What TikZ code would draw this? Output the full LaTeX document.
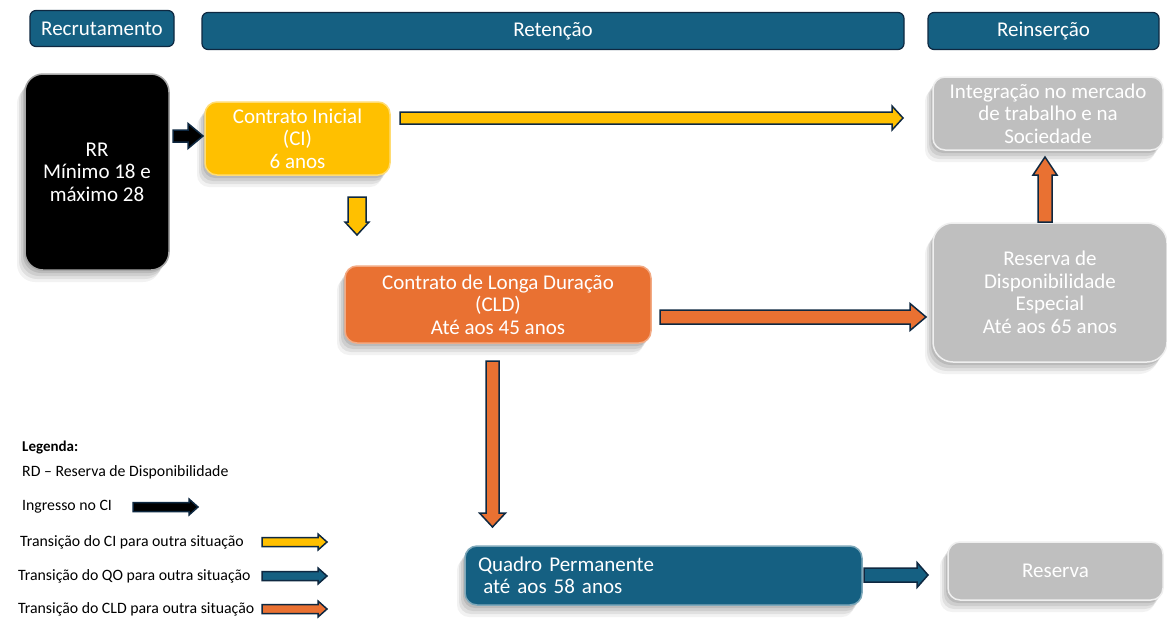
\documentclass[tikz,border=0pt]{standalone}
\usepackage{fontspec}
\setmainfont{Carlito}
\usetikzlibrary{calc, shadows}
\definecolor{hdrblue}{HTML}{156082}
\definecolor{ciyellow}{HTML}{FFC000}
\definecolor{cldorange}{HTML}{E97132}
\definecolor{boxgray}{HTML}{BFBFBF}
\definecolor{arrowline}{HTML}{0E2841}
\tikzstyle{boxfont}=[font=\fontsize{21}{22.5}\selectfont]
\tikzstyle{legfont}=[font=\fontsize{15.8}{18}\selectfont]
\tikzstyle{header}=[boxfont, text=white, fill=hdrblue, draw=arrowline, line width=1.2, rounded corners=6, inner sep=0]
\tikzstyle{softshadow}=[
	general shadow={shadow xshift=-2pt, shadow yshift=-3pt, fill=black, opacity=0.09},
	general shadow={shadow xshift=-4pt, shadow yshift=-6pt, fill=black, opacity=0.08},
	general shadow={shadow xshift=-6pt, shadow yshift=-9pt, fill=black, opacity=0.07},
	general shadow={shadow xshift=-8pt, shadow yshift=-12pt, fill=black, opacity=0.05}]
\tikzstyle{stage}=[boxfont, text=white, align=center, rounded corners=12, inner sep=0, line width=1.5, softshadow]
\tikzstyle{legend}=[legfont, anchor=west, inner sep=0]
\tikzstyle{barrow}=[draw=arrowline, line width=1.5, line join=miter]
% block arrow: #1 fill, #2 from, #3 to, #4 shaft half width, #5 head half width, #6 head length
\newcommand*{\blockarrow}[6]{%
	\coordinate (ha) at ($(#3)!#6!(#2)$);
	\path[barrow, fill=#1] ($(#2)!#4!90:(#3)$) -- ($(ha)!#4!90:(#3)$) -- ($(ha)!#5!90:(#3)$)
		-- (#3) -- ($(ha)!#5!-90:(#3)$) -- ($(ha)!#4!-90:(#3)$) -- ($(#2)!#4!-90:(#3)$) -- cycle;
}
\begin{document}
\begin{tikzpicture}[x=1pt, y=-1pt]
	\useasboundingbox[fill=white] (0,0) rectangle (1167,619);

	% Phase headers
	\node[header, minimum width=144, minimum height=36] (hdr-rec) at (102,28.5) {Recrutamento};
	\node[header, minimum width=702, minimum height=37] (hdr-ret) at (553,31) {Retenção};
	\node[header, minimum width=231, minimum height=37] (hdr-rei) at (1043.5,31) {Reinserção};

	% Stages
	\node[stage, fill=black, draw=gray!70, rounded corners=18, minimum width=144, minimum height=196]
		(rr) at (97,172) {RR\\Mínimo 18 e\\máximo 28};
	\node[stage, fill=ciyellow, draw=ciyellow!55!white, minimum width=185, minimum height=73]
		(ci) at (297.5,138.5) {Contrato Inicial\\(CI)\\6 anos};
	\node[stage, fill=cldorange, draw=cldorange!60!white, minimum width=306, minimum height=77]
		(cld) at (498,304.5) {Contrato de Longa Duração\\(CLD)\\Até aos 45 anos};
	\node[stage, fill=boxgray, draw=white!75!boxgray, minimum width=230, minimum height=73]
		(integ) at (1048,113.5) {Integração no mercado\\de trabalho e na\\Sociedade};
	\node[stage, fill=boxgray, draw=white!75!boxgray, rounded corners=20, minimum width=234, minimum height=139]
		(rde) at (1050,292.5) {Reserva de\\Disponibilidade\\Especial\\Até aos 65 anos};
	\node[stage, fill=hdrblue, draw=hdrblue!55!white, align=left, text width=371, minimum width=397, minimum height=59]
		(qp) at (663.5,575.5) {Quadro Permanente\\\hspace{0.25em}até aos 58 anos};
	\node[stage, fill=boxgray, draw=white!75!boxgray, minimum width=215, minimum height=58]
		(res) at (1055.5,571) {Reserva};

	% Transition arrows
	\coordinate (rr-out) at (173,136);
	\coordinate (ci-in) at (203,136);
	\coordinate (ci-out) at (400,118);
	\coordinate (integ-in) at (903,118);
	\coordinate (ci-down) at (357,197);
	\coordinate (cld-in) at (357,235);
	\coordinate (cld-out) at (660,317);
	\coordinate (rde-in) at (926,317);
	\coordinate (cld-down) at (492.5,361);
	\coordinate (qp-in) at (492.5,527);
	\coordinate (rde-up) at (1045,222);
	\coordinate (integ-up) at (1045,157);
	\coordinate (qp-out) at (864,575);
	\coordinate (res-in) at (928,575);
	\blockarrow{black}{rr-out}{ci-in}{6pt}{12.5pt}{15pt}
	\blockarrow{ciyellow}{ci-out}{integ-in}{6pt}{12pt}{11pt}
	\blockarrow{ciyellow}{ci-down}{cld-in}{9pt}{12pt}{13pt}
	\blockarrow{cldorange}{cld-out}{rde-in}{7pt}{13.5pt}{16pt}
	\blockarrow{cldorange}{cld-down}{qp-in}{6.5pt}{13pt}{14pt}
	\blockarrow{cldorange}{rde-up}{integ-up}{7pt}{12pt}{18pt}
	\blockarrow{hdrblue}{qp-out}{res-in}{7pt}{12.5pt}{11pt}

	% Legend
	\node[legend, font=\bfseries\fontsize{15}{18}\selectfont] (leg-title) at (22,447) {Legenda:};
	\node[legend] (leg-rd) at (22,472) {RD – Reserva de Disponibilidade};
	\foreach \txt/\x/\y/\xa/\col [count=\i] in {
		Ingresso no CI/22/507/133/black,
		Transição do CI para outra situação/20/542/262/ciyellow,
		Transição do QO para outra situação/18/576/262/hdrblue,
		Transição do CLD para outra situação/18/609/262/cldorange}{
		\node[legend] (leg\i) at (\x,\y) {\txt};
		\coordinate (leg\i-s) at (\xa,\y);
		\coordinate (leg\i-e) at ($(leg\i-s)+(65,0)$);
		\blockarrow{\col}{leg\i-s}{leg\i-e}{4.5pt}{8pt}{9pt}
	}
\end{tikzpicture}
\end{document}
